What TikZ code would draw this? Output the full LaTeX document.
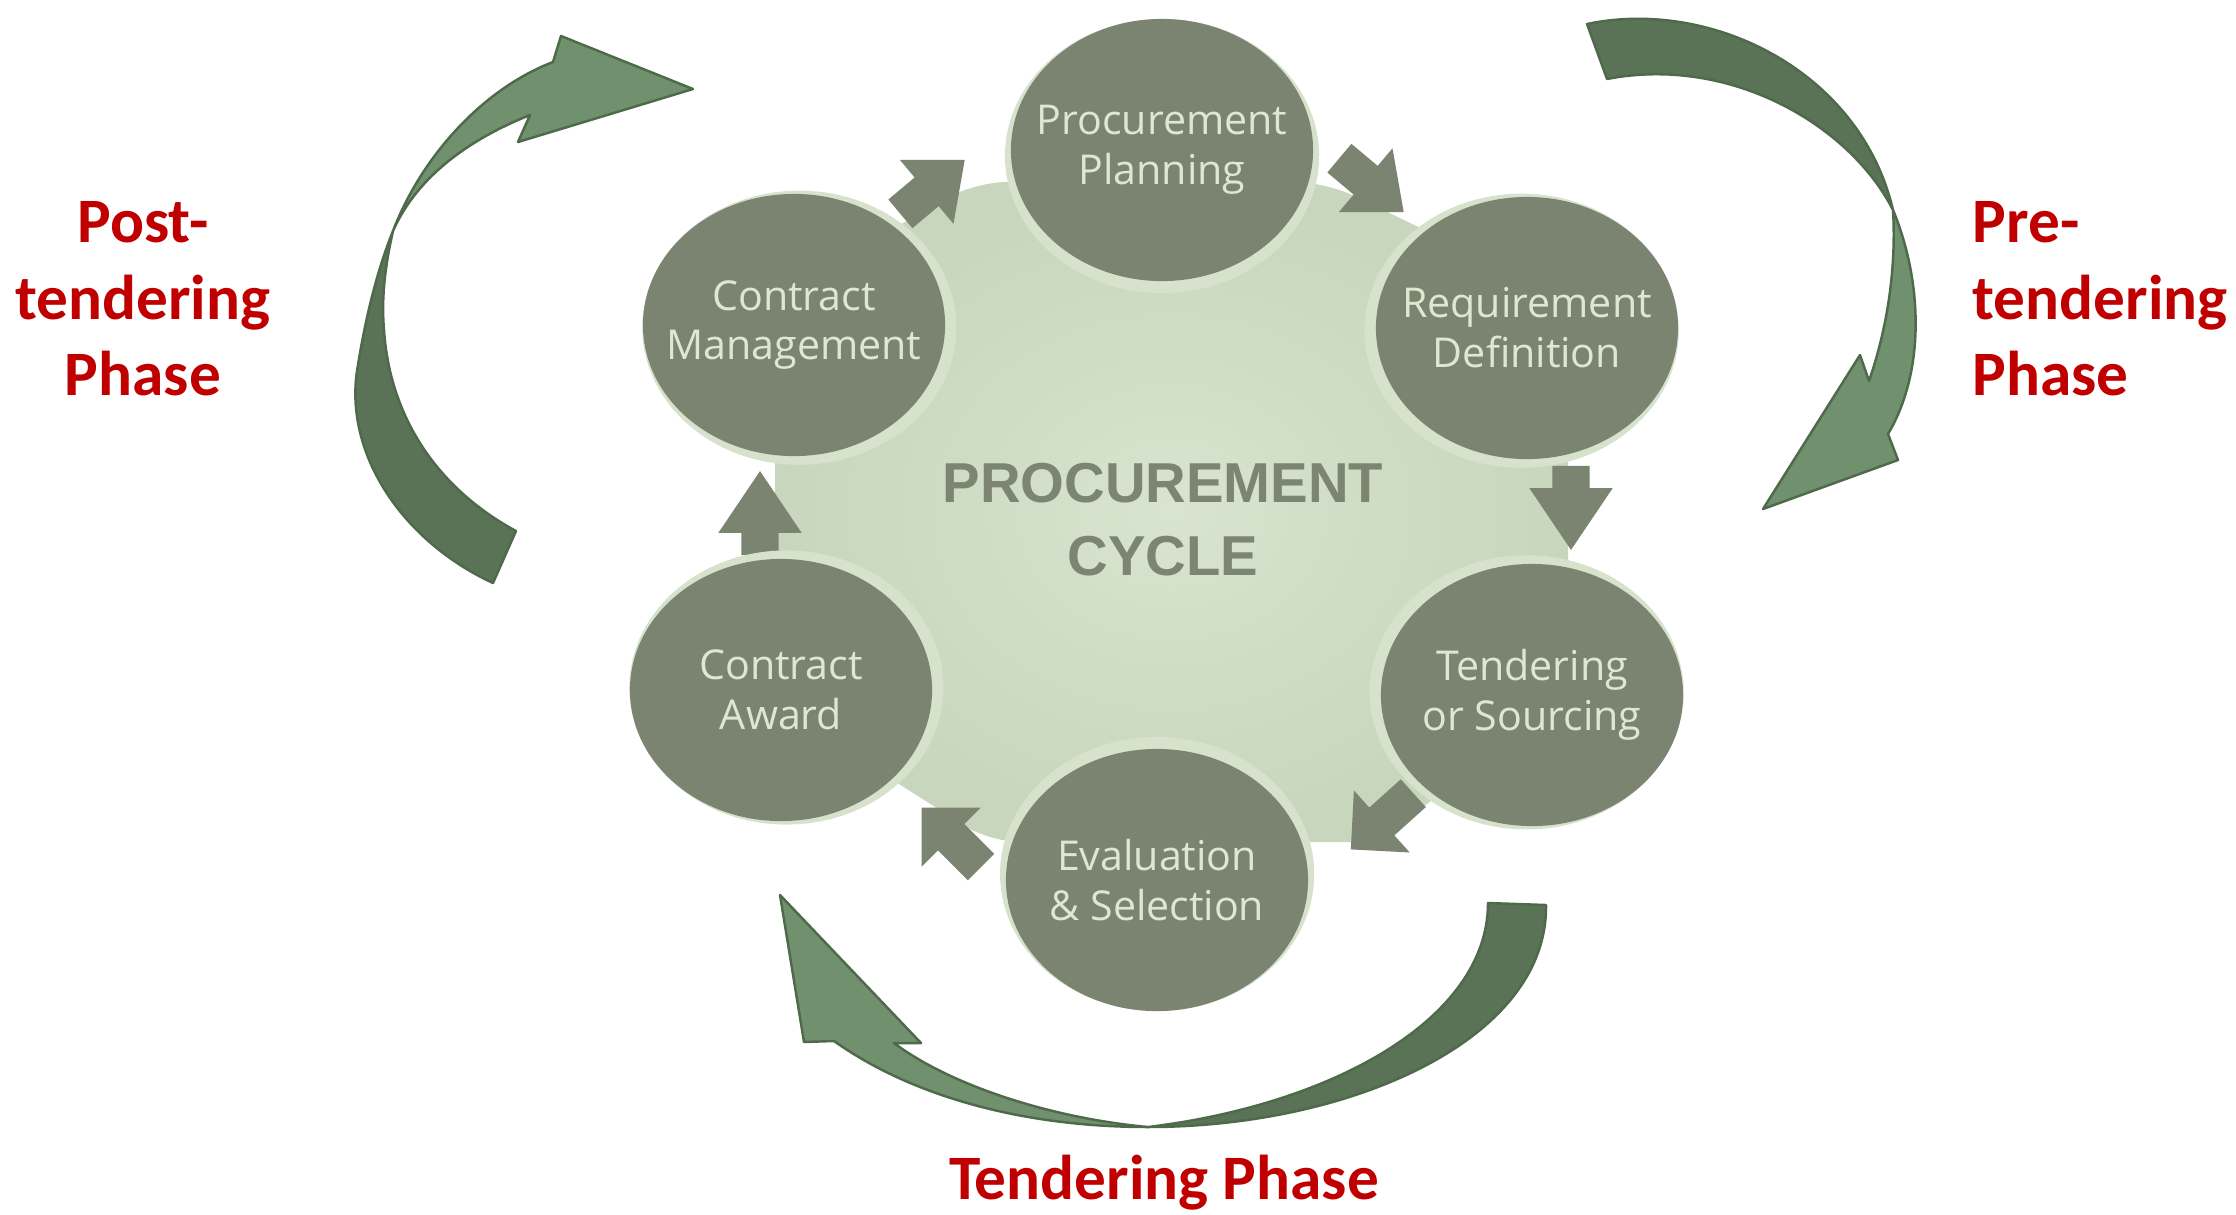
\documentclass[tikz,border=0pt]{standalone}
\usepackage{fontspec}
\setmainfont{Open Sans}
\newfontfamily\phasefont{Carlito}
\newfontfamily\hubfont{Liberation Sans}
\usetikzlibrary{shapes.geometric,shapes.arrows,calc}

\definecolor{stagefill}{RGB}{123,131,113}
\definecolor{stagetext}{RGB}{222,231,208}
\definecolor{rimcol}{RGB}{214,226,203}
\definecolor{hubin}{RGB}{216,228,207}
\definecolor{hubout}{RGB}{199,214,188}
\definecolor{hubtext}{RGB}{124,133,114}
\definecolor{bendlight}{RGB}{113,145,110}
\definecolor{benddark}{RGB}{90,115,87}
\definecolor{bendline}{RGB}{78,106,74}
\definecolor{phasered}{RGB}{192,0,0}

\begin{document}
\begin{tikzpicture}[x=0.01cm,y=-0.01cm]
    \tikzstyle{stage}=[ellipse,fill=stagefill,text=stagetext,minimum width=3.02cm,minimum height=2.62cm,inner sep=-0.3cm,align=center,font=\fontsize{11.7}{14.2}\selectfont]
    \tikzstyle{flow}=[single arrow,fill=stagefill,minimum height=0.84cm,single arrow head extend=0.23cm,inner sep=0.18cm]
    \tikzstyle{phaselabel}=[text=phasered,inner sep=0pt,font=\phasefont\bfseries\fontsize{18}{21.8}\selectfont]
    \tikzstyle{bandarrow}=[draw=bendline,line width=0.7pt,line join=round]
    \useasboundingbox (0,0) rectangle (2236,1214);
    \coordinate (hub) at (1165,512);

    % light centre plate
    \shade[inner color=hubin,outer color=hubout,rounded corners=0.3cm] (976,182) -- (1325,182) -- (1568,299) -- (1568,690) -- (1380,842) -- (990,842) -- (775,705) -- (775,295) -- cycle;
    \node[text=hubtext,font=\hubfont\bfseries\fontsize{16}{20.7}\selectfont,align=center] (title) at (1163,520) {PROCUREMENT\\CYCLE};

    % small arrows between the stages
    \foreach \name/\x/\y/\ang/\tip in {f1/924/194/40/80, f2/1363/178/-40/80, f3/1571/494/-90/68, f4/1389/815/-138/90, f5/958/844/135/90, f6/760/527/90/68}
        \node[flow,rotate=\ang,single arrow tip angle=\tip] (\name) at (\x,\y) {};

    \foreach \name/\x/\y/\txt in {plan/1162/150/{Procurement\\Planning}, req/1527/328/{Requirement\\Definition}, tend/1532/695/{Tendering\\or Sourcing}, eval/1157/880/{Evaluation\\\& Selection}, award/781/690/{Contract\\Award}, manage/794/325/{Contract\\Management}}
    {
        \fill[rimcol] ($(\x,\y)!0.06cm!(hub)$) ellipse [x radius=1.57cm,y radius=1.37cm];
        \node[stage] (\name) at (\x,\y) {\txt};
    }

    % post-tendering bend
    \fill[benddark,bandarrow] (493,583) .. controls (400,540) and (342,450) .. (358,365) .. controls (366,315) and (378,268) .. (393,231)
        .. controls (386,262) and (381,295) .. (384,330) .. controls (390,420) and (440,490) .. (516,531) -- cycle;
    \fill[bendlight,bandarrow] (393,231) .. controls (420,160) and (480,90) .. (553,62) -- (561,36) -- (693,89) -- (518,142) -- (530,115)
        .. controls (480,135) and (420,170) .. (393,231) -- cycle;

    % pre-tendering bend
    \fill[benddark,bandarrow] (1587,24) .. controls (1710,-2) and (1860,70) .. (1893,210)
        .. controls (1850,125) and (1730,55) .. (1607,79) -- cycle;
    \fill[bendlight,bandarrow] (1893,210) .. controls (1922,280) and (1926,370) .. (1888,434) -- (1898,460) -- (1763,509) -- (1860,355) -- (1869,381)
        .. controls (1890,320) and (1896,260) .. (1893,210) -- cycle;

    % tendering bend
    \fill[benddark,bandarrow] (1546,905) .. controls (1548,1040) and (1350,1127) .. (1148,1127)
        .. controls (1330,1105) and (1488,1020) .. (1488,903) -- cycle;
    \fill[bendlight,bandarrow] (1148,1127) .. controls (1020,1127) and (910,1095) .. (834,1041) -- (804,1042) -- (780,895) -- (921,1043) -- (894,1043)
        .. controls (950,1085) and (1050,1118) .. (1148,1127) -- cycle;

    % phase labels
    \node[phaselabel,align=center] (post) at (143,299) {Post-\\tendering\\Phase};
    \node[phaselabel,align=left,anchor=west] (pre) at (1972,299) {Pre-\\tendering\\Phase};
    \node[phaselabel,anchor=base] (tendphase) at (1164,1199) {Tendering Phase};
\end{tikzpicture}
\end{document}
